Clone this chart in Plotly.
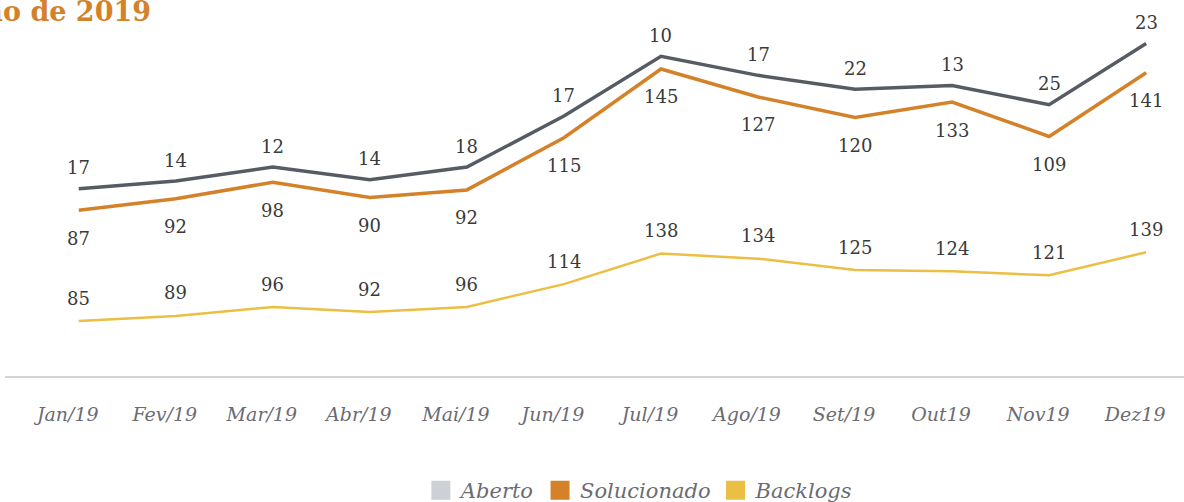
import numpy as np
import plotly.graph_objects as go

months = ["Jan/19", "Fev/19", "Mar/19", "Abr/19", "Mai/19", "Jun/19",
          "Jul/19", "Ago/19", "Set/19", "Out19", "Nov19", "Dez19"]
backlogs = [85, 89, 96, 92, 96, 114, 138, 134, 125, 124, 121, 139]
solucionado = [87, 92, 98, 90, 92, 115, 145, 127, 120, 133, 109, 141]
aberto = [17, 14, 12, 14, 18, 17, 10, 17, 22, 13, 25, 23]

C_ABERTO_LINE = "#575b64"
C_ABERTO_LEG = "#cdd0d7"
C_SOL = "#d4822a"
C_BACK = "#ebbe44"
TXT = "#3a3a3a"
FONT = "DejaVu Serif"

fig = go.Figure()
series = [("Backlogs", backlogs, C_BACK, 2.5),
          ("Solucionado", solucionado, C_SOL, 3.5),
          ("Aberto", aberto, C_ABERTO_LINE, 3.5)]
for name, vals, col, w in series:
    fig.add_trace(go.Scatter(x=months, y=vals, name=name, mode="lines",
                             stackgroup="s", fill="none",
                             line=dict(color=col, width=w), showlegend=False,
                             hoverinfo="skip"))

# legend entries (square swatches)
for name, col in [("Aberto", C_ABERTO_LEG), ("Solucionado", C_SOL), ("Backlogs", C_BACK)]:
    fig.add_trace(go.Scatter(x=[None], y=[None], name=name, mode="markers",
                             marker=dict(symbol="square", size=16, color=col,
                                         line=dict(color=col, width=3))))

cum_b = np.array(backlogs)
cum_s = cum_b + np.array(solucionado)
cum_a = cum_s + np.array(aberto)

for i, m in enumerate(months):
    fig.add_annotation(x=m, y=cum_a[i], text=str(aberto[i]), showarrow=False,
                       yshift=21, font=dict(family=FONT, size=18, color=TXT))
    fig.add_annotation(x=m, y=cum_s[i], text=str(solucionado[i]), showarrow=False,
                       yshift=-28, font=dict(family=FONT, size=18, color=TXT))
    fig.add_annotation(x=m, y=cum_b[i], text=str(backlogs[i]), showarrow=False,
                       yshift=23, font=dict(family=FONT, size=18, color=TXT))

fig.update_layout(
    width=1184, height=502,
    margin=dict(l=5, r=0, t=0, b=126, autoexpand=False),
    paper_bgcolor="white", plot_bgcolor="white",
    font=dict(family=FONT, color=TXT),
    title=dict(text="<b>Ano de 2019</b>", xref="container", yref="container",
               x=151 / 1184, xanchor="right", y=1 - 12 / 502, yanchor="middle",
               font=dict(family=FONT, size=27, color=C_SOL)),
    xaxis=dict(type="category", range=[-0.76, 11.39], showgrid=False,
               showline=True, linecolor="#d5d5d5", linewidth=2, ticks="",
               tickfont=dict(family=FONT, size=19, color="#6b6b73", style="italic"),
               ticklabelstandoff=20, ticklabelshift=-11, zeroline=False,
               automargin=False),
    yaxis=dict(range=[41.8, 337.2], visible=False, showgrid=False, zeroline=False,
               automargin=False),
    legend=dict(orientation="h", xref="container", yref="container",
                x=0.54, xanchor="center", y=1 - 470 / 502, yanchor="top",
                font=dict(family=FONT, size=21, color="#6b6b73", style="italic"),
                itemclick=False),
    showlegend=True,
)

fig.write_html("out.html", config={"displayModeBar": False},
               post_script="document.body.style.margin='0px';document.body.style.overflow='hidden';")
